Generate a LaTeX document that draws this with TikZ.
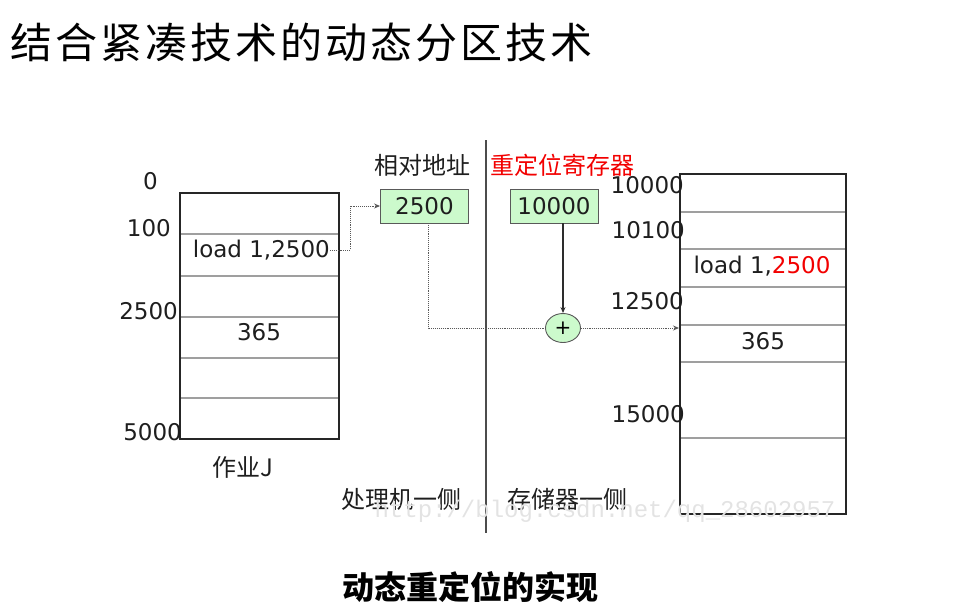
\documentclass[tikz,border=0pt]{standalone}
\usepackage{fontspec}
\setmainfont{DejaVu Sans}
\newfontfamily\cjk{Noto Sans CJK SC}
\newfontfamily\wmfont{Liberation Mono}
\usetikzlibrary{arrows.meta,shapes.geometric}
\definecolor{boxgreen}{RGB}{204,250,204}
\definecolor{lbl}{RGB}{30,30,30}
\newcommand{\tsp}{\hspace{3pt}}
\tikzset{
  lab/.style={font=\fontsize{23}{26}\selectfont, text=lbl, inner sep=0pt},
  cjklab/.style={lab, font=\cjk\fontsize{24}{26}\selectfont},
  reg/.style={draw=gray!70!black, fill=boxgreen, line width=0.9pt, minimum width=88, minimum height=34, inner sep=0pt, font=\fontsize{23}{26}\selectfont, text=lbl},
  outer/.style={draw=black!85, line width=1.8pt},
  row/.style={draw=gray!75, line width=1.3pt},
  dotline/.style={densely dotted, draw=gray!70!black, line width=0.9pt},
  tip/.style={-{Stealth[length=6pt,width=5pt]}}
}
\begin{document}
\begin{tikzpicture}[x=1pt,y=-1pt]
\useasboundingbox (0,0) rectangle (974,614);
% title
\node[anchor=west, inner sep=0pt, font=\cjk\fontsize{42}{46}\selectfont, text=black] (title) at (10,43) {结\tsp 合\tsp 紧\tsp 凑\tsp 技\tsp 术\tsp 的\tsp 动\tsp 态\tsp 分\tsp 区\tsp 技\tsp 术};
% separator
\draw[draw=gray!60!black, line width=1.4pt] (486,140) -- (486,533);
% ---------- job J box ----------
\foreach \y in {234,276,317,358,398} \draw[row] (180,\y) -- (339,\y);
\draw[outer] (180,193) rectangle (339,439);
\node[lab, anchor=east] (j0) at (158,181) {0};
\node[lab, anchor=east] (j100) at (171,228) {100};
\node[lab, anchor=east] (j2500) at (178,311) {2500};
\node[lab, anchor=east] (j5000) at (182,432) {5000};
\node[lab, anchor=east] (loadL) at (330,250) {load 1,2500};
\node[lab] (l365) at (259,332) {365};
\node[cjklab] (jobJ) at (243,467) {作业J};
% ---------- registers ----------
\node[cjklab] (relT) at (422,165) {相对地址};
\node[cjklab, text=red!95!black] (regT) at (562,165) {重定位寄存器};
\node[reg] (b2500) at (424.5,206) {2500};
\node[reg] (b10000) at (554,206) {10000};
\node[draw=gray!70!black, fill=boxgreen, ellipse, line width=0.9pt, minimum width=35, minimum height=29, inner sep=0pt, font=\fontsize{20}{20}\selectfont] (plus) at (563,328) {+};
% ---------- memory box ----------
\foreach \y in {212,249,287,325,362,438} \draw[row] (680,\y) -- (846,\y);
\draw[outer] (680,174) rectangle (846,514);
\node[lab, anchor=east] (m10000) at (684,185) {10000};
\node[lab, anchor=east] (m10100) at (685,230) {10100};
\node[lab, anchor=east] (m12500) at (684,301) {12500};
\node[lab, anchor=east] (m15000) at (685,414) {15000};
\node[lab] (loadR) at (762,266) {load 1,\textcolor{red!95!black}{2500}};
\node[lab] (r365) at (763,341) {365};
\coordinate (rin) at (679,328);
\coordinate (dtop) at (428,223);
% ---------- connectors ----------
\draw[dotline, tip] (loadL.east) -- ++(20,0) |- (b2500.west);
\draw[dotline] (dtop) |- (plus.west);
\draw[dotline, tip] (plus.east) -- (rin);
\draw[draw=gray!35!black, line width=1.2pt, tip] (b10000.south -| plus.north) -- (plus.north);
% side captions
\node[cjklab] (cpu) at (401,499) {处理机一侧};
\node[cjklab] (mem) at (567,499) {存储器一侧};
% watermark
\node[inner sep=0pt, font=\wmfont\fontsize{24}{26}\selectfont, text=gray!22] (wm) at (605,511) {http://blog.csdn.net/qq\_28602957};
% caption
\node[inner sep=0pt, font=\cjk\bfseries\fontsize{32}{34}\selectfont] (cap) at (470,587) {动态重定位的实现};
\end{tikzpicture}
\end{document}
